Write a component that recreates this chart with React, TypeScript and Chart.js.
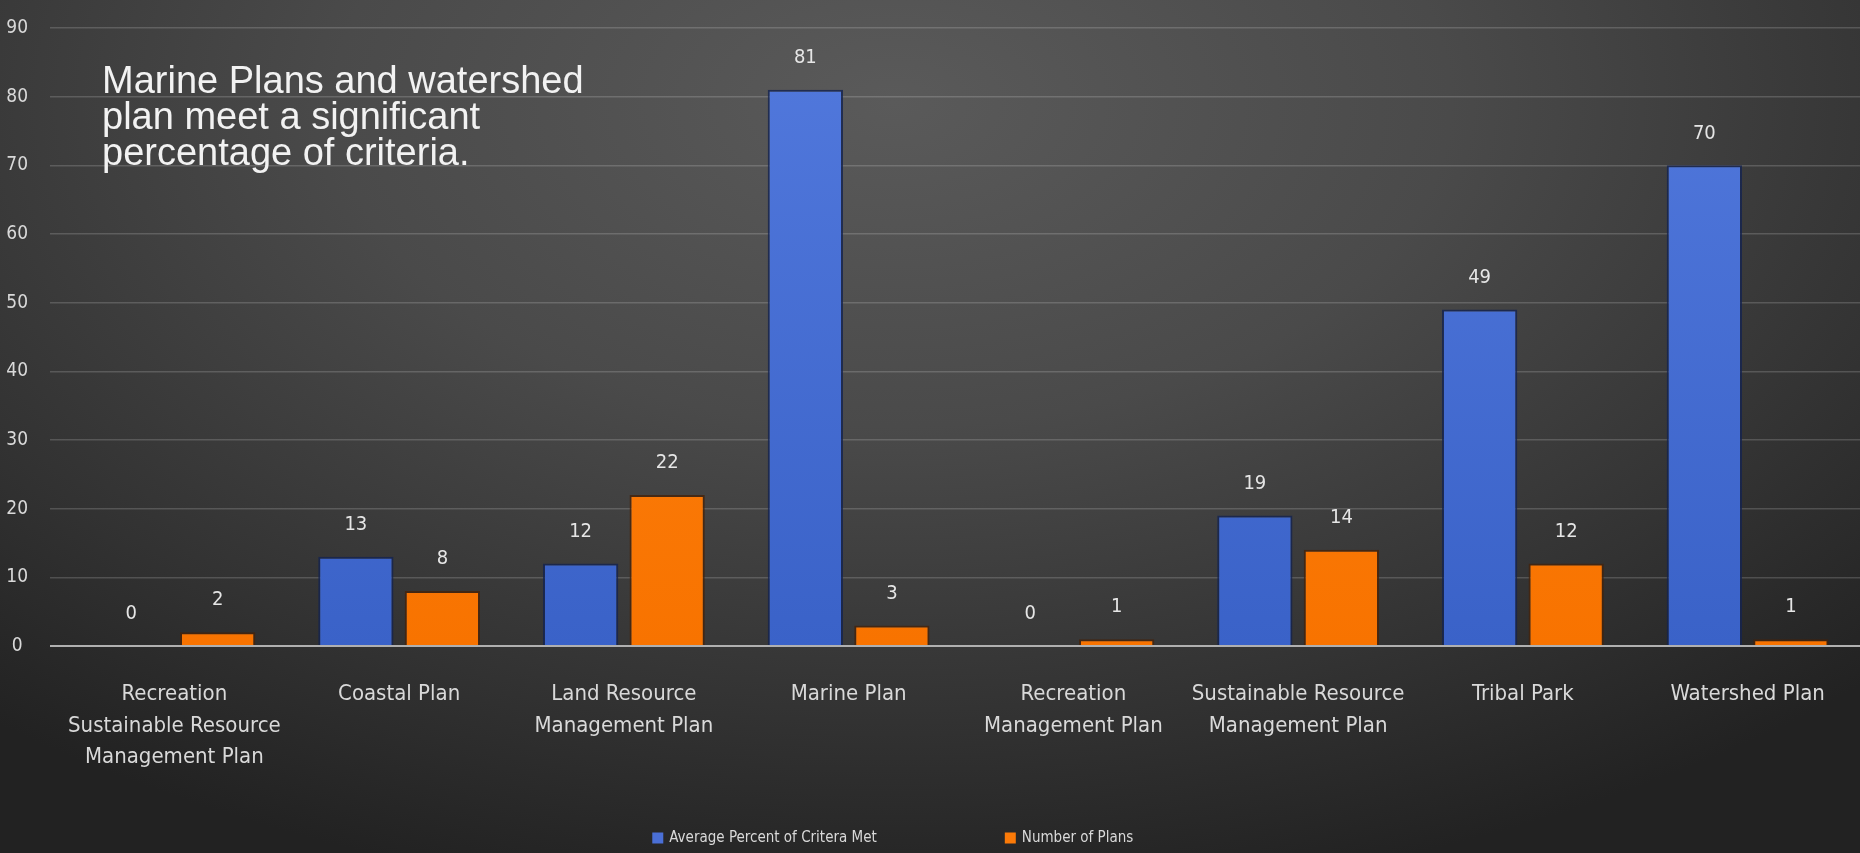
import React, { useEffect, useRef } from "react";
import { Chart, registerables } from "chart.js";

Chart.register(...registerables);

const categories: string[][] = [
  ["Recreation", "Sustainable Resource", "Management Plan"],
  ["Coastal Plan"],
  ["Land Resource", "Management Plan"],
  ["Marine Plan"],
  ["Recreation", "Management Plan"],
  ["Sustainable Resource", "Management Plan"],
  ["Tribal Park"],
  ["Watershed Plan"],
];
const avgPercentMet: number[] = [0, 13, 12, 81, 0, 19, 49, 70];
const numberOfPlans: number[] = [2, 8, 22, 3, 1, 14, 12, 1];
const seriesNames: string[] = ["Average Percent of Critera Met", "Number of Plans"];
const seriesColors: string[] = ["#4a6fd6", "#fb7a08"];
const yMax = 90;
const yStep = 10;
const annotationLines: string[] = [
  "Marine Plans and watershed",
  "plan meet a significant",
  "percentage of criteria.",
];

const LABEL_FONT = "'Liberation Sans Narrow', 'DejaVu Sans Condensed', 'Liberation Sans', sans-serif";

const valueLabels = {
  id: "valueLabels",
  afterDatasetsDraw(chart: any) {
    const ctx = chart.ctx;
    ctx.save();
    ctx.font = `20px ${LABEL_FONT}`;
    ctx.fillStyle = "#e6e6e6";
    ctx.textAlign = "center";
    ctx.textBaseline = "middle";
    chart.data.datasets.forEach((ds: any, i: number) => {
      const meta = chart.getDatasetMeta(i);
      meta.data.forEach((bar: any, j: number) => {
        ctx.fillText(String(ds.data[j]), bar.x, bar.y - 32);
      });
    });
    ctx.restore();
  },
};

// Excel-style legend: widely spaced items centred under the plot
const wideLegend = {
  id: "wideLegend",
  afterDraw(chart: any) {
    const ctx = chart.ctx;
    const box = 11;
    const gapBoxText = 6;
    const itemGap = 128;
    ctx.save();
    ctx.font = `15px ${LABEL_FONT}`;
    ctx.textBaseline = "middle";
    ctx.textAlign = "left";
    const widths = seriesNames.map((n) => ctx.measureText(n).width);
    const total =
      widths.reduce((a, w) => a + w + box + gapBoxText, 0) + itemGap * (seriesNames.length - 1);
    let x = chart.width * 0.48 - total / 2;
    const y = chart.height - 15;
    seriesNames.forEach((n, i) => {
      ctx.fillStyle = seriesColors[i];
      ctx.fillRect(x, y - box / 2, box, box);
      ctx.fillStyle = "#d9d9d9";
      ctx.fillText(n, x + box + gapBoxText, y);
      x += box + gapBoxText + widths[i] + itemGap;
    });
    ctx.restore();
  },
};

function grad(ctx: any, top: string, bottom: string) {
  const chart = ctx.chart;
  const area = chart.chartArea;
  if (!area) return bottom;
  const g = chart.ctx.createLinearGradient(0, area.top, 0, area.bottom);
  g.addColorStop(0, top);
  g.addColorStop(1, bottom);
  return g;
}

const gridColor = (c: any) => (c.tick && c.tick.value === 0 ? "#b0b0b0" : "rgba(255,255,255,0.17)");
const gridWidth = (c: any) => (c.tick && c.tick.value === 0 ? 2 : 1.5);

export default function App() {
  const ref = useRef<HTMLCanvasElement | null>(null);
  useEffect(() => {
    document.body.style.margin = "0";
    if (!ref.current) return;
    const chart = new Chart(ref.current, {
      type: "bar",
      data: {
        labels: categories,
        datasets: [
          {
            label: seriesNames[0],
            data: avgPercentMet,
            backgroundColor: (c: any) => grad(c, "#5279dd", "#3a62c8"),
            borderColor: "rgba(20,35,80,0.8)",
            borderWidth: { top: 2, left: 2, right: 2, bottom: 0 },
            categoryPercentage: 0.77,
            barPercentage: 0.87,
          },
          {
            label: seriesNames[1],
            data: numberOfPlans,
            backgroundColor: (c: any) => grad(c, "#ff8514", "#f87300"),
            borderColor: "rgba(70,35,10,0.8)",
            borderWidth: { top: 2, left: 2, right: 2, bottom: 0 },
            categoryPercentage: 0.77,
            barPercentage: 0.87,
          },
        ],
      },
      options: {
        animation: false,
        responsive: false,
        maintainAspectRatio: false,
        layout: { padding: { top: 28, right: 0, left: 0, bottom: 33 } },
        plugins: {
          tooltip: { enabled: false },
          legend: { display: false },
        },
        scales: {
          x: {
            grid: { display: false, drawTicks: false },
            border: { display: false },
            ticks: {
              color: "#d9d9d9",
              padding: 32,
              maxRotation: 0,
              autoSkip: false,
              font: { family: LABEL_FONT, size: 22, lineHeight: 1.45 },
            },
            afterFit: (s: any) => {
              s.height = 174;
            },
          },
          y: {
            min: 0,
            max: yMax,
            ticks: {
              stepSize: yStep,
              color: "#d9d9d9",
              padding: 22,
              crossAlign: "center",
              font: { family: LABEL_FONT, size: 19 },
            },
            grid: {
              drawTicks: true,
              tickLength: 12,
              tickColor: gridColor,
              tickWidth: gridWidth,
              color: gridColor,
              lineWidth: gridWidth,
            },
            border: { display: false },
            afterFit: (s: any) => {
              s.width = 62;
              s.paddingTop = 0;
              s.paddingBottom = 0;
            },
          },
        },
      },
      plugins: [valueLabels, wideLegend],
    });
    return () => chart.destroy();
  }, []);

  return (
    <div
      style={{
        position: "relative",
        width: 1860,
        height: 853,
        background:
          "radial-gradient(ellipse 75% 95% at 48% 12%, #5a5a5a 0%, #4a4a4a 40%, #333333 75%, #222222 100%)",
        overflow: "hidden",
      }}
    >
      <canvas ref={ref} width={1860} height={853} style={{ position: "absolute", left: 0, top: 0 }} />
      <div
        style={{
          position: "absolute",
          left: 102,
          top: 62,
          color: "#f2f2f2",
          fontFamily: "'Liberation Sans', Arial, sans-serif",
          fontSize: 38,
          lineHeight: "36px",
          whiteSpace: "nowrap",
        }}
      >
        {annotationLines.map((l, i) => (
          <div key={i}>{l}</div>
        ))}
      </div>
    </div>
  );
}
